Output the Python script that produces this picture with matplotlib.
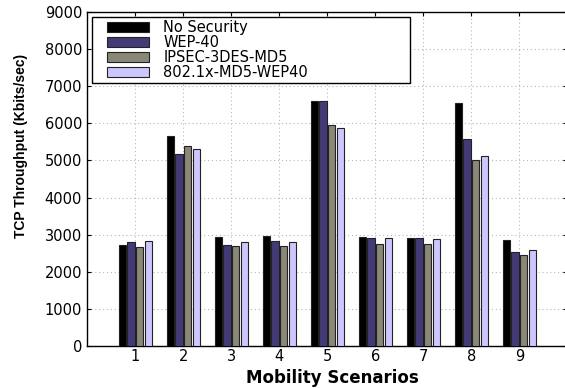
import numpy as np
import matplotlib
matplotlib.use("Agg")
import matplotlib.pyplot as plt
from matplotlib.patches import Rectangle
from matplotlib.legend_handler import HandlerPatch

scenarios = [1, 2, 3, 4, 5, 6, 7, 8, 9]
series_names = ["No Security", "WEP-40", "IPSEC-3DES-MD5", "802.1x-MD5-WEP40"]

# TCP throughput in Kbits/sec for each mobility scenario
no_security = [2720, 5650, 2940, 2970, 6600, 2940, 2910, 6540, 2850]
wep40 = [2790, 5170, 2720, 2840, 6600, 2910, 2910, 5570, 2520]
ipsec_3des_md5 = [2680, 5380, 2690, 2690, 5960, 2740, 2760, 5000, 2440]
dot1x_md5_wep40 = [2820, 5300, 2790, 2790, 5870, 2910, 2880, 5120, 2600]

y_ticks = [0, 1000, 2000, 3000, 4000, 5000, 6000, 7000, 8000, 9000]

colors = ["#000000", "#433b78", "#8a8777", "#ccc8ff"]

plt.rcParams["font.family"] = ["DejaVu Sans"]

fig = plt.figure(figsize=(5.65, 3.88), dpi=100)
ax = fig.add_axes([87.3 / 565, 42 / 388, 480 / 565, 334 / 388])

series = [no_security, wep40, ipsec_3des_md5, dot1x_md5_wep40]
x = np.array(scenarios, dtype=float)
step = 0.727 / 4
bars = []
for i, (vals, name, c) in enumerate(zip(series, series_names, colors)):
    offs = (i - 1.5) * step
    b = ax.bar(x + offs, vals, width=step * 0.85, color=c, edgecolor="#222222",
               linewidth=0.8, label=name, zorder=3)
    bars.append(b)

ax.set_xlim(0, 10)
ax.set_ylim(0, 9000)
ax.set_xticks(scenarios)
ax.set_yticks(y_ticks)
ax.set_axisbelow(True)
ax.grid(True, color="#b8b8b8", linestyle=(0, (1, 2.5)), linewidth=0.8)

ax.tick_params(direction="in", length=3, width=0.8, top=True, right=True,
               labelsize=10.5)
ax.tick_params(axis="y", pad=3.8)
ax.tick_params(axis="x", pad=2.5)
for sp in ax.spines.values():
    sp.set_linewidth(1.0)
    sp.set_color("black")

ax.set_xlabel("Mobility Scenarios", fontsize=12, fontweight="bold")
ax.xaxis.set_label_coords(0.51, -0.07)
ax.set_ylabel("TCP Throughput (Kbits/sec)", fontsize=10, fontweight="bold",
              family=["Liberation Sans", "DejaVu Sans"])
ax.yaxis.set_label_coords(-0.1235, 0.599)


def swatch(legend, orig_handle, xdescent, ydescent, width, height, fontsize):
    sw = 30
    return Rectangle((-xdescent + width - sw, -ydescent), sw, height)


handler = HandlerPatch(patch_func=swatch)
leg = ax.legend(handles=[b.patches[0] for b in bars], labels=series_names,
                loc="upper left", mode="expand",
                bbox_to_anchor=(0.0098, 0.778, 0.6625, 0.207),
                borderaxespad=0, fontsize=10.5, labelspacing=0.0,
                borderpad=0.2, handlelength=3.7, handleheight=0.7,
                handletextpad=1.0, fancybox=False, framealpha=1,
                handler_map={b.patches[0]: handler for b in bars})
leg.get_frame().set_edgecolor("black")
leg.get_frame().set_linewidth(1.0)

fig.savefig("out.png", dpi=100)
